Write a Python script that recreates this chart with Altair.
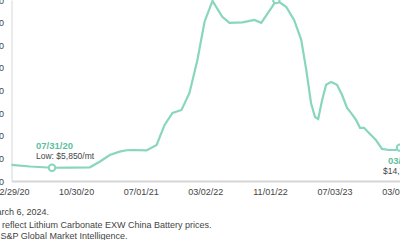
import altair as alt
import pandas as pd

# ---- data ----
dates = [
    "2020-02-29", "2020-05-09", "2020-07-31", "2020-10-06", "2020-12-21",
    "2021-01-27", "2021-03-06", "2021-04-12", "2021-05-09", "2021-05-31",
    "2021-07-23", "2021-08-30", "2021-09-29", "2021-10-29", "2021-12-02",
    "2022-01-01", "2022-01-31", "2022-02-27", "2022-03-29", "2022-05-05",
    "2022-06-01", "2022-07-20", "2022-09-03", "2022-09-29", "2022-11-09",
    "2022-11-25", "2023-01-01", "2023-01-31", "2023-02-27", "2023-03-18",
    "2023-04-05", "2023-04-20", "2023-05-02", "2023-05-17", "2023-06-01",
    "2023-06-20", "2023-07-12", "2023-07-31", "2023-08-19", "2023-09-03",
    "2023-09-22", "2023-10-07", "2023-10-22", "2023-11-10", "2023-12-06",
    "2023-12-29", "2024-01-24", "2024-02-19", "2024-03-06",
]
prices = [
    7100, 6400, 5850, 5900, 6050,
    8500, 11500, 13000, 13600, 13700,
    13500, 15900, 24800, 30100, 31400,
    38900, 53500, 70400, 79600, 72600,
    69900, 70100, 71200, 69900, 77000,
    80000, 77000, 71200, 62400, 49100,
    34500, 28300, 27400, 35800, 42500,
    43800, 42500, 38100, 32300, 30100,
    27000, 23500, 23500, 21200, 18100,
    14200, 13700, 13700, 14750,
]

marker_dates = ["2020-07-31", "2022-11-25", "2024-03-06"]
marker_prices = [5850, 80000, 14750]

low_date = ["2020-07-31"]
low_price = [5850]
low_date_label = ["07/31/20"]
low_value_label = ["Low: $5,850/mt"]

cur_date = ["2024-03-06"]
cur_price = [14750]
cur_date_label = ["03/06/24"]
cur_value_label = ["$14,750/mt"]

x_tick_dates = [(2020, 2, 29), (2020, 10, 30), (2021, 7, 1), (2022, 3, 2),
                (2022, 11, 1), (2023, 7, 3), (2024, 3, 3)]
y_ticks = [0, 10000, 20000, 30000, 40000, 50000, 60000, 70000, 80000]

footnote_1 = "As of March 6, 2024."
footnote_2 = "Prices reflect Lithium Carbonate EXW China Battery prices."
footnote_3 = "Source: S&P Global Market Intelligence."

# ---- styling ----
LINE = "#88d6be"
GREEN = "#5cbf9e"
TEXT = "#444444"
FONT = "Liberation Sans"

series = pd.DataFrame({"date": dates, "price": prices})
markers = pd.DataFrame({"date": marker_dates, "price": marker_prices})
low = pd.DataFrame({"date": low_date, "price": low_price,
                    "d": low_date_label, "v": low_value_label})
cur = pd.DataFrame({"date": cur_date, "price": cur_price,
                    "d": cur_date_label, "v": cur_value_label})


def dt(t):
    return alt.DateTime(year=t[0], month=t[1], date=t[2], utc=True)


x_enc = alt.X(
    "date:T",
    title=None,
    scale=alt.Scale(type="utc", domain=[dt((2020, 2, 29)), dt((2024, 3, 6))]),
    axis=alt.Axis(
        values=[dt(t) for t in x_tick_dates],
        format="%m/%d/%y",
        grid=False,
        ticks=False,
        tickSize=0,
        labelPadding=6.5,
        labelFont=FONT,
        labelFontSize=9,
        labelColor=TEXT,
        domainColor="#d6d6d6",
        domainWidth=2,
        labelOverlap=False,
        labelFlush=False,
    ),
)
y_enc = alt.Y(
    "price:Q",
    title=None,
    scale=alt.Scale(domain=[0, 80000], nice=False, zero=True),
    axis=alt.Axis(
        values=y_ticks,
        format="$,.0f",
        grid=False,
        ticks=False,
        tickSize=0,
        labelPadding=8,
        labelFont=FONT,
        labelFontSize=9,
        labelColor=TEXT,
        domainColor="#d6d6d6",
        domainWidth=1,
        labelFlush=False,
    ),
)

line = alt.Chart(series).mark_line(color=LINE, strokeWidth=2.2).encode(x=x_enc, y=y_enc)

points = alt.Chart(markers).mark_point(
    shape="circle", filled=True, fill="white", stroke=LINE, strokeWidth=2,
    size=42, opacity=1,
).encode(x=x_enc, y=y_enc)

low_d = alt.Chart(low).mark_text(
    align="left", baseline="middle", dx=-16, dy=-22,
    font=FONT, fontSize=9.5, fontWeight="bold", color=GREEN,
).encode(x=x_enc, y=y_enc, text="d:N")
low_v = alt.Chart(low).mark_text(
    align="left", baseline="middle", dx=-16, dy=-11.5,
    font=FONT, fontSize=8.5, color=TEXT,
).encode(x=x_enc, y=y_enc, text="v:N")
cur_d = alt.Chart(cur).mark_text(
    align="left", baseline="middle", dx=-12, dy=13.5,
    font=FONT, fontSize=9.5, fontWeight="bold", color=GREEN,
).encode(x=x_enc, y=y_enc, text="d:N")
cur_v = alt.Chart(cur).mark_text(
    align="left", baseline="middle", dx=-17, dy=23.5,
    font=FONT, fontSize=8.5, color=TEXT,
).encode(x=x_enc, y=y_enc, text="v:N")

one = pd.DataFrame({"k": [0]})


def foot(txt, x, y):
    return alt.Chart(one).mark_text(
        align="left", baseline="middle", text=txt,
        font=FONT, fontSize=9, color=TEXT,
    ).encode(x=alt.value(x), y=alt.value(y))


chart = (
    alt.layer(
        line, points, low_d, low_v, cur_d, cur_v,
        foot(footnote_1, -45.5, 212),
        foot(footnote_2, -37, 224.5),
        foot(footnote_3, -44.5, 236),
    )
    .properties(
        width=388.5,
        height=181,
        autosize=alt.AutoSizeParams(type="none"),
        padding={"left": 11.5, "top": 0, "right": 0, "bottom": 59},
        background="white",
    )
    .configure_view(stroke=None)
)

chart.save("out.html", embed_options={"renderer": "svg", "actions": False})
